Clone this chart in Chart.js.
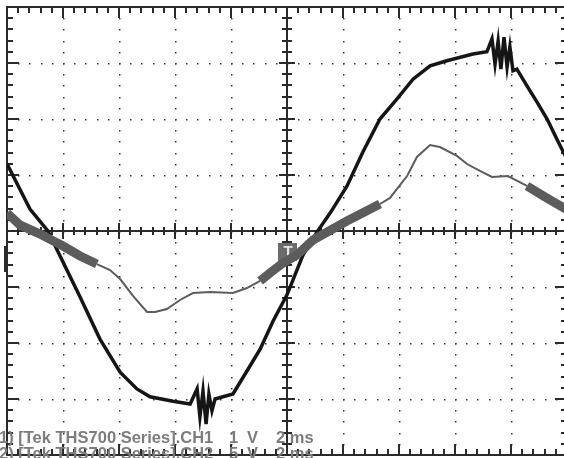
<!DOCTYPE html>
<html>
<head>
<meta charset="utf-8">
<script src="https://cdn.jsdelivr.net/npm/chart.js@4.4.1/dist/chart.umd.min.js"></script>
<style>
  html, body { margin: 0; padding: 0; background: #fff; overflow: hidden; }
  #wrap { position: absolute; left: 0; top: 0; width: 570px; height: 458px; }
</style>
</head>
<body>
<div id="wrap"><canvas id="scope" width="570" height="458"></canvas></div>
<script>
// time axis in ms (2 ms/div), CH1 in V (1 V/div), CH2 in V (5 V/div)
const ch1Time = [-10.0, -9.18, -8.54, -7.39, -6.68, -5.96, -5.36, -4.89, -4.07, -3.46,
    -3.21, -3.11, -3.0, -2.89, -2.79, -2.68, -2.57, -1.93, -1.43, -0.96,
    -0.5, 0, 0.57, 1.07, 1.54, 2.14, 2.71, 3.32,
    3.93, 4.5, 5.11, 5.71, 6.64, 7.14, 7.32, 7.43, 7.54, 7.64,
    7.75, 7.86, 7.96, 8.07, 8.21, 8.57, 8.93, 9.29, 9.64, 9.96];
const ch1Volts = [1.20, 0.39, 0.0, -1.18, -1.93, -2.52, -2.82, -2.96, -3.04, -3.09,
    -2.82, -3.32, -2.86, -3.45, -2.91, -3.21, -3.0, -2.91, -2.5, -2.11,
    -1.61, -1.14, -0.43, -0.02, 0.32, 0.80, 1.41, 2.0,
    2.36, 2.71, 2.95, 3.04, 3.16, 3.20, 3.43, 2.98, 3.39, 2.89,
    3.46, 2.93, 3.29, 2.86, 2.89, 2.59, 2.30, 2.0, 1.64, 1.32];

const ch2Time = [-10.0, -9.54, -8.82, -8.0, -7.39, -6.79, -6.32, -5.96, -5.5, -5.0,
    -4.71, -4.29, -3.82, -3.36, -2.75, -1.93, -1.43, -0.96, -0.61, -0.14,
    0.36, 0.93, 2.14, 3.32, 3.68, 4.04, 4.29, 4.64, 5.11, 5.46,
    6.07, 6.43, 6.89, 7.32, 7.89, 8.57, 9.21, 9.96];
const ch2Volts = [1.61, 0.54, -0.27, -1.34, -2.23, -2.95, -3.48, -4.29, -5.80, -7.23,
    -7.23, -6.96, -6.16, -5.54, -5.45, -5.54, -5.09, -4.46, -3.75, -2.86,
    -2.14, -0.80, 0.89, 2.41, 2.95, 4.11, 4.91, 6.61, 7.68, 7.5,
    6.70, 5.98, 5.36, 4.82, 4.91, 4.02, 3.04, 1.96];

const labelLines = [
    ['1) [Tek THS700 Series].CH1', '1', 'V', '2 ms'],
    ['2) [Tek THS700 Series].CH2', '5', 'V', '2 ms']
];

// noisy (wide) stretches of the CH2 trace, in ms
const ch2Noisy = [[-10, -6.8], [-1.0, 3.4], [7.9, 10]];

const toPoints = (ts, vs) => ts.map((t, i) => ({ x: t, y: vs[i] }));

const scopeFrame = {
    id: 'scopeFrame',
    beforeDatasetsDraw(chart) {
        const { ctx, chartArea: a, scales } = chart;
        const x = scales.x, y = scales.y;
        const x0 = Math.round(x.getPixelForValue(0));
        const y0 = Math.round(y.getPixelForValue(0));
        ctx.save();

        // dotted graticule
        ctx.fillStyle = '#333';
        for (let i = -4; i <= 4; i++) {
            if (i === 0) continue;
            const px = Math.round(x.getPixelForValue(i * 2));
            for (let j = -19; j <= 19; j++) {
                ctx.fillRect(px, Math.round(y.getPixelForValue(j * 0.2)), 1.5, 1.5);
            }
        }
        for (let j = -3; j <= 3; j++) {
            if (j === 0) continue;
            const py = Math.round(y.getPixelForValue(j));
            for (let k = -24; k <= 24; k++) {
                ctx.fillRect(Math.round(x.getPixelForValue(k * 0.4)), py, 1.5, 1.5);
            }
        }

        // frame
        ctx.fillStyle = '#2a2a2a';
        ctx.fillRect(a.left - 1, a.top - 1, a.right - a.left + 2, 2);
        ctx.fillRect(a.left - 1, a.bottom - 1, a.right - a.left + 2, 2);
        ctx.fillRect(a.left - 1, a.top - 1, 2, a.bottom - a.top + 2);
        ctx.fillRect(a.right - 1, a.top - 1, 2, a.bottom - a.top + 2);

        // center cross
        ctx.fillRect(a.left, y0 - 1, a.right - a.left, 2);
        ctx.fillRect(x0 - 1, a.top, 2, a.bottom - a.top);

        // ticks along x
        for (let k = -25; k <= 25; k++) {
            const px = Math.round(x.getPixelForValue(k * 0.4));
            const major = k % 5 === 0;
            ctx.fillRect(px - 1, a.top, 2, major ? 11 : 6);
            ctx.fillRect(px - 1, a.bottom - (major ? 11 : 6), 2, major ? 11 : 6);
            const c = major ? 8 : 4;
            ctx.fillRect(px - 1, y0 - c, 2, c * 2);
        }
        // ticks along y
        for (let j = -20; j <= 20; j++) {
            const py = Math.round(y.getPixelForValue(j * 0.2));
            const major = j % 5 === 0;
            ctx.fillRect(a.left, py - 1, major ? 12 : 6, 2);
            ctx.fillRect(a.right - (major ? 12 : 6), py - 1, major ? 12 : 6, 2);
            const c = major ? 8 : 5;
            ctx.fillRect(x0 - c, py - 1, c * 2, 2);
        }

        // ground marker on the left edge
        ctx.fillRect(a.left - 3, y0 + 15, 3, 26);

        // trigger marker
        ctx.fillStyle = '#6b6b6b';
        ctx.fillRect(x0 - 9, y0 + 12, 19, 18);
        ctx.fillStyle = '#e6e6e6';
        ctx.font = 'bold 15px "Liberation Sans", Arial, sans-serif';
        ctx.textAlign = 'center';
        ctx.textBaseline = 'middle';
        ctx.fillText('T', x0 + 1, y0 + 21);

        // channel readouts
        ctx.fillStyle = '#7c7c7c';
        ctx.font = 'bold 16.5px "Liberation Sans", Arial, sans-serif';
        ctx.textAlign = 'left';
        ctx.textBaseline = 'alphabetic';
        const cols = [-1, 229, 247, 276];
        labelLines.forEach((line, r) => {
            const by = 443 + r * 16;
            line.forEach((txt, c) => ctx.fillText(txt, cols[c], by));
        });
        ctx.restore();
    }
};

new Chart(document.getElementById('scope'), {
    type: 'line',
    data: {
        datasets: [
            {
                label: 'CH2',
                data: toPoints(ch2Time, ch2Volts),
                yAxisID: 'y2',
                borderColor: '#5c5c5c',
                borderWidth: 2,
                pointRadius: 0,
                tension: 0,
                order: 0,
                segment: {
                    borderWidth: c => ch2Noisy.some(r => c.p0.parsed.x >= r[0] && c.p1.parsed.x <= r[1] + 0.01) ? 9 : 2
                }
            },
            {
                label: 'CH1',
                data: toPoints(ch1Time, ch1Volts),
                yAxisID: 'y',
                borderColor: '#151515',
                borderWidth: 3.5,
                pointRadius: 0,
                tension: 0,
                order: 1
            }
        ]
    },
    options: {
        responsive: false,
        animation: false,
        devicePixelRatio: 1,
        layout: { padding: { left: 7, top: 7, right: 3, bottom: 3 } },
        plugins: { legend: { display: false }, tooltip: { enabled: false } },
        scales: {
            x: { type: 'linear', min: -10, max: 10, display: false },
            y: { min: -4, max: 4, display: false },
            y2: { min: -20, max: 20, display: false }
        }
    },
    plugins: [scopeFrame]
});
</script>
</body>
</html>
